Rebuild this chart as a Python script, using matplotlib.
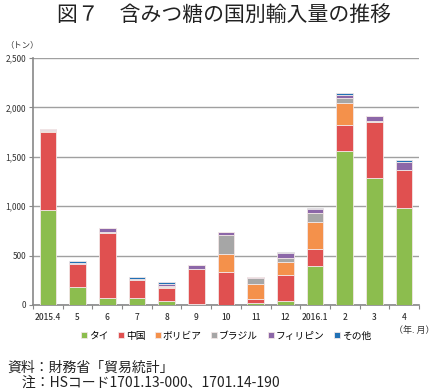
import matplotlib
matplotlib.use('Agg')
import matplotlib.pyplot as plt
import numpy as np

plt.rcParams['font.family'] = ['Noto Sans CJK JP', 'DejaVu Sans']

# 月
months = ['2015.4', '5', '6', '7', '8', '9', '10', '11', '12', '2016.1', '2', '3', '4']
# 国別輸入量（トン）
thai = [965, 182, 68, 75, 40, 5, 0, 22, 40, 392, 1562, 1282, 979]
china = [785, 233, 660, 182, 132, 358, 334, 38, 264, 175, 256, 567, 391]
bolivia = [15, 0, 0, 0, 14, 0, 180, 152, 131, 270, 223, 0, 0]
brazil = [5, 3, 8, 3, 5, 5, 192, 57, 38, 94, 58, 17, 0]
philippines = [10, 12, 40, 5, 18, 34, 28, 12, 50, 37, 26, 51, 74]
other = [5, 12, 2, 20, 20, 0, 6, 0, 10, 17, 18, 0, 20]

names = ['タイ', '中国', 'ボリビア', 'ブラジル', 'フィリピン', 'その他']
series = [thai, china, bolivia, brazil, philippines, other]
colors = ['#8cbd4e', '#e05050', '#f4914b', '#a6a6a6', '#8c67a8', '#2171b5']

fig = plt.figure(figsize=(4.35, 3.9), dpi=100)
ax = fig.add_axes([0.076, 0.218, 0.887, 0.633])

x = np.arange(len(months))
bottom = np.zeros(len(months))
for vals, name, c in zip(series, names, colors):
    ax.bar(x, vals, 0.56, bottom=bottom, color=c, label=name,
           edgecolor='#f2e6e6', linewidth=0.6, zorder=3)
    bottom += np.array(vals)

ax.set_xlim(-0.5, len(months) - 0.5)
ax.set_ylim(0, 2500)
ax.set_yticks(np.arange(0, 2501, 500))
ax.set_yticklabels(['0', '500', '1,000', '1,500', '2,000', '2,500'], fontsize=6, color='#333333')
ax.yaxis.grid(True, color='#a0a0a0', linewidth=1.0, zorder=0)
ax.set_xticks(x)
ax.set_xticklabels(months, fontsize=6, color='#333333', fontweight='medium')
ax.set_xticks(np.arange(-0.5, len(months), 1), minor=True)
ax.tick_params(axis='x', which='major', length=0, pad=6)
ax.tick_params(axis='x', which='minor', length=3, color='#888888', width=0.8)
ax.tick_params(axis='y', length=3, color='#888888', width=0.8, pad=2)
for s in ['top', 'right']:
    ax.spines[s].set_visible(False)
for s in ['left', 'bottom']:
    ax.spines[s].set_color('#888888')
    ax.spines[s].set_linewidth(1.2)

fig.text(0.515, 0.962, '図７　含みつ糖の国別輸入量の推移', ha='center', va='center', fontsize=15, color='#222222')
fig.text(0.012, 0.885, '（トン）', ha='left', va='center', fontsize=6, color='#333333')
fig.text(0.998, 0.153, '（年. 月）', ha='right', va='center', fontsize=6.5, color='#333333')

ax.legend(loc='center', bbox_to_anchor=(0.5, -0.125), ncol=6, frameon=False,
          fontsize=7, handlelength=0.6, handleheight=0.6, handletextpad=0.2,
          columnspacing=1.0)

fig.text(0.018, 0.058, '資料：財務省「貿易統計」', ha='left', va='center', fontsize=10, color='#222222')
fig.text(0.018, 0.018, '　注：HSコード1701.13-000、1701.14-190', ha='left', va='center', fontsize=10, color='#222222')

fig.savefig('out.png', dpi=100)
